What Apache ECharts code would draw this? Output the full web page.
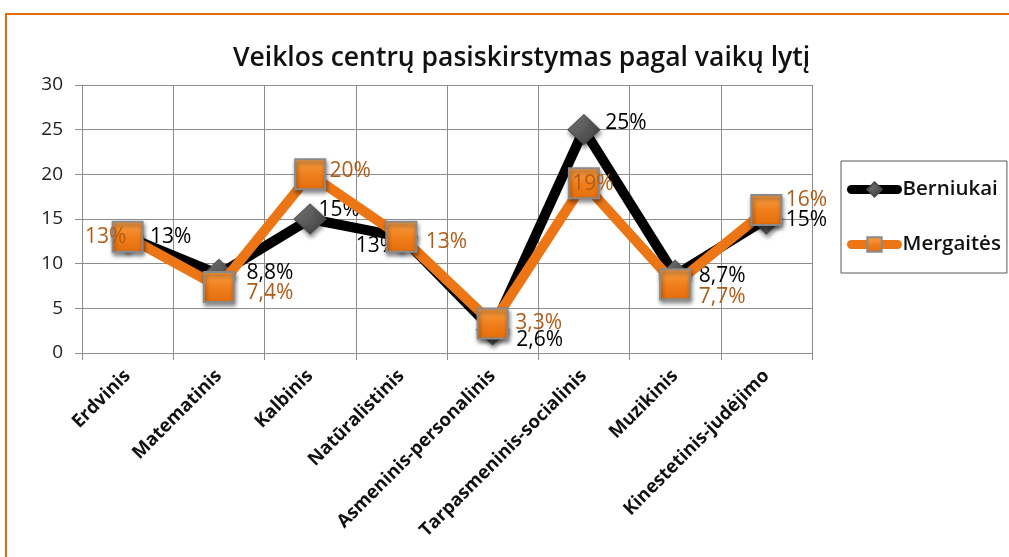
<!DOCTYPE html>
<html>
<head>
<meta charset="utf-8">
<script src="https://cdn.jsdelivr.net/npm/echarts@6/dist/echarts.min.js"></script>
<style>
html,body{margin:0;padding:0;background:#fff;}
#chart{width:1009px;height:557px;}
</style>
</head>
<body>
<div id="chart"></div>
<script>
// ---- data ----
const titleText = 'Veiklos centrų pasiskirstymas pagal vaikų lytį';
const categories = ['Erdvinis', 'Matematinis', 'Kalbinis', 'Natūralistinis', 'Asmeninis-personalinis', 'Tarpasmeninis-socialinis', 'Muzikinis', 'Kinestetinis-judėjimo'];
const seriesNames = ['Berniukai', 'Mergaitės'];
const boysValues = [13, 8.8, 15, 13, 2.6, 25, 8.7, 15];
const girlsValues = [13, 7.4, 20, 13, 3.3, 19, 7.7, 16];
const yMin = 0, yMax = 30, yInterval = 5;

// ---- label layout (pixel offsets from each point) ----
const boysLabelOffsets = [[43,0],[51,-1],[29,-9],[-25,9],[47,10],[42,-7],[47,1],[40,1]];
const girlsLabelOffsets = [[-22,0],[51,6],[40,-3],[45,5],[46,-1],[9,1],[47,13],[40,-10]];

const fmt = v => String(v).replace('.', ',') + '%';
const FONT = 'Open Sans';

function withLabels(values, offsets, color) {
  return values.map((v, i) => ({
    value: v,
    label: { show: true, position: 'inside', offset: offsets[i], color: color }
  }));
}

const chart = echarts.init(document.getElementById('chart'), null, { renderer: 'canvas' });
const gridColor = '#8c8c8c';

chart.setOption({
  backgroundColor: '#fff',
  animation: false,
  graphic: [{
    type: 'rect',
    shape: { x: 6, y: 14, width: 1100, height: 1000 },
    style: { fill: 'none', stroke: '#e46c0a', lineWidth: 2 },
    silent: true, z: -10
  }],
  title: {
    text: titleText,
    left: 228,
    top: 40,
    textStyle: { fontFamily: FONT, fontSize: 26.5, fontWeight: 600, color: '#111' }
  },
  legend: {
    orient: 'vertical',
    left: 841,
    top: 161,
    padding: [18, 6, 18, 6],
    itemGap: 34,
    itemWidth: 46,
    itemHeight: 18,
    borderColor: '#595959',
    borderWidth: 1,
    lineStyle: { width: 9, cap: 'round' },
    textStyle: { fontFamily: FONT, fontSize: 20.5, fontWeight: 600, color: '#111' },
    data: seriesNames
  },
  grid: { left: 82, right: 197, top: 85, bottom: 204, containLabel: false },
  xAxis: {
    type: 'category',
    data: categories,
    boundaryGap: true,
    axisLine: { show: true, lineStyle: { color: gridColor, width: 1 } },
    axisTick: { show: true, length: 7, lineStyle: { color: gridColor } },
    splitLine: { show: true, lineStyle: { color: gridColor, width: 1 } },
    axisLabel: { rotate: 45, margin: 20, interval: 0, fontFamily: FONT, fontSize: 18.5, fontWeight: 'bold', color: '#111' }
  },
  yAxis: {
    type: 'value',
    min: yMin, max: yMax, interval: yInterval,
    axisLine: { show: true, lineStyle: { color: gridColor, width: 1 } },
    axisTick: { show: true, length: 7, lineStyle: { color: gridColor } },
    splitLine: { show: true, lineStyle: { color: gridColor, width: 1 } },
    axisLabel: { margin: 19, fontFamily: FONT, fontSize: 19, color: '#222' }
  },
  series: [
    {
      name: seriesNames[0],
      type: 'line',
      data: withLabels(boysValues, boysLabelOffsets, '#000'),
      symbol: 'diamond',
      symbolSize: [32, 30],
      lineStyle: { color: '#000', width: 10, cap: 'round', join: 'round' },
      itemStyle: {
        color: new echarts.graphic.LinearGradient(0, 0, 1, 1, [
          { offset: 0, color: '#8a8a8a' }, { offset: 0.5, color: '#5a5a5a' }, { offset: 1, color: '#3a3a3a' }
        ]),
        borderColor: '#4a4a4a', borderWidth: 1,
        shadowBlur: 4, shadowOffsetX: 1, shadowOffsetY: 3, shadowColor: 'rgba(0,0,0,0.45)'
      },
      label: { show: true, formatter: p => fmt(p.value), fontFamily: FONT, fontSize: 21, color: '#000' },
      z: 2
    },
    {
      name: seriesNames[1],
      type: 'line',
      data: withLabels(girlsValues, girlsLabelOffsets, '#b05c17'),
      symbol: 'rect',
      symbolSize: 30,
      lineStyle: { color: '#ec7515', width: 10, cap: 'round', join: 'round' },
      itemStyle: {
        color: new echarts.graphic.LinearGradient(0, 0, 0, 1, [
          { offset: 0, color: '#f9a04a' }, { offset: 0.5, color: '#f0801c' }, { offset: 1, color: '#e46c0a' }
        ]),
        borderColor: '#8a8a8a', borderWidth: 2,
        shadowBlur: 4, shadowOffsetX: 1, shadowOffsetY: 3, shadowColor: 'rgba(0,0,0,0.45)'
      },
      label: { show: true, formatter: p => fmt(p.value), fontFamily: FONT, fontSize: 21, color: '#b05c17' },
      z: 3
    }
  ]
});
</script>
</body>
</html>
